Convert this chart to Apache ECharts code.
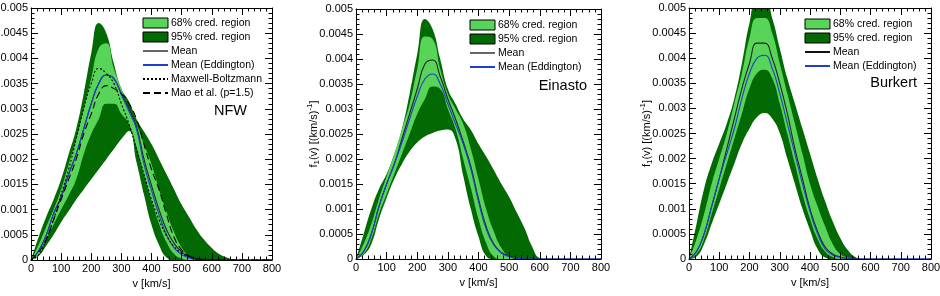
<!DOCTYPE html>
<html>
<head>
<meta charset="utf-8">
<script src="https://cdn.jsdelivr.net/npm/echarts@6/dist/echarts.min.js"></script>
<style>
  html, body { margin: 0; padding: 0; background: #fff; }
  #chart { width: 940px; height: 296px; }
</style>
</head>
<body>
<div id="chart"></div>
<script>
// speed grid [km/s]
const speed = [0, 25, 50, 75, 100, 125, 150, 175, 200, 225, 250, 275, 300, 325, 350, 375, 400,
  425, 450, 475, 500, 525, 550, 575, 600, 625, 650, 675, 700, 725, 750, 775, 800];

// NFW
const nfwUp95 = [0, 0.00045, 0.00085, 0.0012, 0.0016, 0.0021, 0.0026, 0.0033, 0.0041, 0.0047, 0.0045, 0.0039, 0.0034, 0.00315, 0.0028, 0.00255, 0.0023,
  0.002, 0.0017, 0.0014, 0.0011, 0.00085, 0.0006, 0.0004, 0.00024, 0.00012, 0.00005, 0.00001, 0, 0, 0, 0, 0];
const nfwUp68 = [0, 0.0003, 0.00065, 0.001, 0.0014, 0.0019, 0.0024, 0.003, 0.0036, 0.0042, 0.0043, 0.0038, 0.0034, 0.003, 0.0027, 0.0023, 0.0019,
  0.0014, 0.00095, 0.00055, 0.00025, 0.00008, 0.00002, 0, 0, 0, 0, 0, 0, 0, 0, 0, 0];
const nfwLo68 = [0, 0.0001, 0.0004, 0.0007, 0.001, 0.00128, 0.0016, 0.0021, 0.0025, 0.0028, 0.0031, 0.0031, 0.0029, 0.0027, 0.00225, 0.0017, 0.00118,
  0.00072, 0.00035, 0.00012, 0.00003, 0, 0, 0, 0, 0, 0, 0, 0, 0, 0, 0, 0];
const nfwLo95 = [0, 0.00008, 0.00028, 0.0005, 0.00075, 0.00097, 0.0012, 0.0014, 0.0016, 0.0018, 0.002, 0.0022, 0.0024, 0.00256, 0.00195, 0.0013, 0.0007,
  0.0003, 0.00005, 0, 0, 0, 0, 0, 0, 0, 0, 0, 0, 0, 0, 0, 0];
const nfwMean = [0, 0.00018, 0.00048, 0.00092, 0.00125, 0.0017, 0.0021, 0.0026, 0.0031, 0.0035, 0.00367, 0.0036, 0.0033, 0.003, 0.00265, 0.002, 0.00148,
  0.001, 0.0006, 0.00033, 0.00016, 0.00007, 0.00002, 0, 0, 0, 0, 0, 0, 0, 0, 0, 0];
const nfwEdd = [0, 0.00018, 0.00048, 0.00092, 0.00125, 0.0017, 0.0021, 0.0026, 0.0031, 0.0035, 0.00367, 0.0036, 0.00328, 0.00295, 0.0026, 0.0019, 0.00138,
  0.0009, 0.0005, 0.00024, 0.00011, 0.00004, 0.00001, 0, 0, 0, 0, 0, 0, 0, 0, 0, 0];
const nfwMB = [0, 0.0001, 0.0004, 0.0008, 0.0013, 0.0018, 0.0024, 0.003, 0.0035, 0.0038, 0.0037, 0.0035, 0.0031, 0.0027, 0.0022, 0.0017, 0.0012,
  0.0008, 0.00048, 0.00027, 0.00014, 0.00006, 0.00002, 0, 0, 0, 0, 0, 0, 0, 0, 0, 0];
const nfwMao = [0, 0.00015, 0.0004, 0.0008, 0.0012, 0.0016, 0.002, 0.0025, 0.0029, 0.0033, 0.00346, 0.0034, 0.0033, 0.0031, 0.0028, 0.0023, 0.0018,
  0.0014, 0.0009, 0.00045, 0.0002, 0.00008, 0.00003, 0.00001, 0, 0, 0, 0, 0, 0, 0, 0, 0];

// Einasto
const einUp95 = [0, 0.0005, 0.001, 0.0014, 0.0017, 0.0021, 0.0026, 0.0033, 0.0041, 0.0048, 0.0046, 0.004, 0.0034, 0.0031, 0.0028, 0.00258, 0.0023,
  0.00205, 0.00178, 0.0015, 0.00124, 0.00093, 0.00062, 0.00025, 0.00002, 0, 0, 0, 0, 0, 0, 0, 0];
const einUp68 = [0, 0.0003, 0.0007, 0.0012, 0.00165, 0.0021, 0.0026, 0.0031, 0.0038, 0.00445, 0.0044, 0.0038, 0.0033, 0.003, 0.0027, 0.0022, 0.0016,
  0.001, 0.00055, 0.00022, 0.00005, 0, 0, 0, 0, 0, 0, 0, 0, 0, 0, 0, 0];
const einLo68 = [0, 0.0001, 0.0004, 0.0009, 0.0013, 0.0017, 0.0021, 0.0025, 0.0029, 0.0032, 0.00345, 0.0034, 0.003, 0.0026, 0.002, 0.00142, 0.0008,
  0.00032, 0.00005, 0, 0, 0, 0, 0, 0, 0, 0, 0, 0, 0, 0, 0, 0];
const einLo95 = [0, 0.00008, 0.0003, 0.0008, 0.00122, 0.0016, 0.0019, 0.00215, 0.00233, 0.00245, 0.00252, 0.00257, 0.00259, 0.0024, 0.00167, 0.001, 0.00045,
  0.00006, 0, 0, 0, 0, 0, 0, 0, 0, 0, 0, 0, 0, 0, 0, 0];
const einMean = [0, 0.00015, 0.0005, 0.00105, 0.0015, 0.0019, 0.0024, 0.0029, 0.0034, 0.0039, 0.00398, 0.00365, 0.0032, 0.0028, 0.00235, 0.00185, 0.0012,
  0.00065, 0.0003, 0.00013, 0.00006, 0.00002, 0, 0, 0, 0, 0, 0, 0, 0, 0, 0, 0];
const einEdd = [0, 0.00015, 0.0005, 0.00105, 0.0015, 0.0019, 0.00233, 0.0028, 0.00325, 0.0036, 0.0037, 0.0035, 0.0031, 0.0027, 0.0023, 0.0018, 0.00115,
  0.0006, 0.00028, 0.00012, 0.00005, 0.00002, 0, 0, 0, 0, 0, 0, 0, 0, 0, 0, 0];

// Burkert
const burUp95 = [0, 0.0007, 0.0014, 0.0019, 0.0023, 0.0027, 0.0032, 0.0039, 0.0047, 0.0052, 0.0052, 0.0048, 0.0042, 0.0036, 0.0031, 0.0026, 0.0021,
  0.0016, 0.00115, 0.00075, 0.00042, 0.00018, 0.00004, 0, 0, 0, 0, 0, 0, 0, 0, 0, 0];
const burUp68 = [0, 0.0004, 0.0009, 0.0015, 0.002, 0.0025, 0.0031, 0.0037, 0.0044, 0.0048, 0.0048, 0.0045, 0.0039, 0.0033, 0.0027, 0.0021, 0.0015,
  0.00105, 0.00065, 0.0003, 0.0001, 0.00003, 0, 0, 0, 0, 0, 0, 0, 0, 0, 0, 0];
const burLo68 = [0, 0.0001, 0.0004, 0.0009, 0.0014, 0.0019, 0.0024, 0.0029, 0.0034, 0.0037, 0.00377, 0.0036, 0.0031, 0.0025, 0.0019, 0.0013, 0.0008,
  0.0004, 0.00015, 0.00004, 0, 0, 0, 0, 0, 0, 0, 0, 0, 0, 0, 0, 0];
const burLo95 = [0, 0.00005, 0.0003, 0.0007, 0.0011, 0.0015, 0.0019, 0.0023, 0.0026, 0.00283, 0.00291, 0.0028, 0.00251, 0.002, 0.0015, 0.001, 0.00058,
  0.0002, 0.00003, 0, 0, 0, 0, 0, 0, 0, 0, 0, 0, 0, 0, 0, 0];
const burMean = [0, 0.00015, 0.0005, 0.00105, 0.0016, 0.0022, 0.0028, 0.0034, 0.0039, 0.0043, 0.0043, 0.004, 0.0035, 0.0029, 0.0022, 0.0016, 0.001,
  0.00055, 0.00024, 0.0001, 0.00004, 0.00001, 0, 0, 0, 0, 0, 0, 0, 0, 0, 0, 0];
const burEdd = [0, 0.00015, 0.0005, 0.00105, 0.0016, 0.0021, 0.0026, 0.0032, 0.0037, 0.004, 0.00406, 0.0038, 0.0033, 0.0027, 0.0021, 0.0015, 0.00095,
  0.0005, 0.0002, 0.00008, 0.00003, 0.00001, 0, 0, 0, 0, 0, 0, 0, 0, 0, 0, 0];

const xTicks = { min: 0, max: 800, interval: 100 };
const yTicks = { min: 0, max: 0.005, interval: 0.0005 };

const LIGHT = '#58d458';
const DARK = '#036a03';
const MEAN_COL = '#222222';
const EDD_COL = '#1f3fd0';
const FONT = '"Liberation Sans", Arial, sans-serif';

const boxes = [
  { left: 31, top: 8, width: 241, height: 252 },
  { left: 356, top: 9, width: 245, height: 250 },
  { left: 689, top: 8, width: 242, height: 251 }
];

const pairs = (ys) => speed.map((v, i) => [v, ys[i]]);

const yFmt = (v) => (v === 0 ? '0' : String(+v.toFixed(4)));

function axesFor(i, showYName) {
  const tick = { show: true, inside: true, length: 7, lineStyle: { color: '#000' } };
  const minor = { show: true, splitNumber: 5, length: 3.5, lineStyle: { color: '#000' } };
  const line = { show: true, onZero: false, lineStyle: { color: '#000', width: 1 } };
  const x = [
    {
      type: 'value', gridIndex: i, position: 'bottom', z: 10, ...xTicks,
      axisLine: line, axisTick: tick, minorTick: minor, splitLine: { show: false },
      axisLabel: { fontSize: 11, color: '#000', margin: 3, fontFamily: FONT },
      name: 'v [km/s]', nameLocation: 'middle', nameGap: 16,
      nameTextStyle: { fontSize: 11, color: '#000', fontFamily: FONT }
    },
    {
      type: 'value', gridIndex: i, position: 'top', z: 10, ...xTicks,
      axisLine: line, axisTick: tick, minorTick: minor, splitLine: { show: false },
      axisLabel: { show: false }
    }
  ];
  const y = [
    {
      type: 'value', gridIndex: i, position: 'left', z: 10, ...yTicks,
      axisLine: line, axisTick: tick, minorTick: minor, splitLine: { show: false },
      axisLabel: { fontSize: 11, color: '#000', margin: 3, fontFamily: FONT, formatter: yFmt }
    },
    {
      type: 'value', gridIndex: i, position: 'right', z: 10, ...yTicks,
      axisLine: line, axisTick: tick, minorTick: minor, splitLine: { show: false },
      axisLabel: { show: false }
    }
  ];
  if (showYName) {
    y[0].name = 'f{sub|1}(v) [(km/s){sup|-1}]';
    y[0].nameLocation = 'middle';
    y[0].nameGap = 35;
    y[0].nameMoveOverlap = false;
    y[0].nameTextStyle = {
      fontSize: 11, color: '#000', fontFamily: FONT,
      rich: {
        sub: { fontSize: 8, fontFamily: FONT, color: '#000', padding: [7, 0, 0, 0] },
        sup: { fontSize: 8, fontFamily: FONT, color: '#000', padding: [0, 0, 7, 0] }
      }
    };
  }
  return { x, y };
}

// bands are painted down to zero, outer to inner, so the nesting gives the green bands
function bandSeries(i, up95, up68, lo68, lo95) {
  const fills = [
    ['95% cred. region', up95, DARK],
    ['68% cred. region', up68, LIGHT],
    ['lo68', lo68, DARK],
    ['lo95', lo95, '#ffffff']
  ];
  return fills.map(([name, ys, col]) => ({
    name, type: 'line', xAxisIndex: 2 * i, yAxisIndex: 2 * i,
    data: pairs(ys), smooth: 0.5, symbol: 'none', silent: true,
    lineStyle: { width: 0, color: col }, itemStyle: { color: col },
    areaStyle: { color: col, opacity: 1 }
  }));
}

function curve(i, name, ys, col, type) {
  return {
    name, type: 'line', xAxisIndex: 2 * i, yAxisIndex: 2 * i,
    data: pairs(ys), smooth: 0.5, symbol: 'none', silent: true,
    lineStyle: { width: 1.1, color: col, type: type || 'solid' }, itemStyle: { color: col }
  };
}

function legendFor(left, top, names, meanCol) {
  const band = (name, col) => ({ name, icon: 'rect', itemStyle: { color: col, borderColor: '#000', borderWidth: 1 } });
  const lineItem = (name) => {
    const item = { name, itemStyle: { opacity: 0 } };
    if (name === 'Mean') item.lineStyle = { color: meanCol };
    return item;
  };
  const data = [band('68% cred. region', LIGHT), band('95% cred. region', DARK)].concat(names.map(lineItem));
  return {
    orient: 'vertical', left, top, itemWidth: 25, itemHeight: 10, itemGap: 2,
    selectedMode: false, data,
    textStyle: { fontSize: 10.5, color: '#000', fontFamily: FONT, lineHeight: 12, padding: [0, 0, 0, -2] }
  };
}

const axes = [axesFor(0, false), axesFor(1, true), axesFor(2, true)];

const series = [].concat(
  bandSeries(0, nfwUp95, nfwUp68, nfwLo68, nfwLo95),
  [
    curve(0, 'Mean', nfwMean, MEAN_COL),
    curve(0, 'Mean (Eddington)', nfwEdd, EDD_COL),
    curve(0, 'Maxwell-Boltzmann', nfwMB, '#000', [2, 2]),
    curve(0, 'Mao et al. (p=1.5)', nfwMao, '#000', [7, 4])
  ],
  bandSeries(1, einUp95, einUp68, einLo68, einLo95),
  [curve(1, 'Mean', einMean, MEAN_COL), curve(1, 'Mean (Eddington)', einEdd, EDD_COL)],
  bandSeries(2, burUp95, burUp68, burLo68, burLo95),
  [curve(2, 'Mean', burMean, MEAN_COL), curve(2, 'Mean (Eddington)', burEdd, EDD_COL)]
);

const halo = (text, right, top) => ({
  type: 'text', right, top, z: 20,
  style: { text, fontSize: 14.5, fill: '#000', fontFamily: FONT }
});

const option = {
  animation: false,
  backgroundColor: '#fff',
  textStyle: { fontFamily: FONT },
  grid: boxes.map(b => ({ ...b, containLabel: false, outerBoundsMode: 'none' })),
  xAxis: axes.flatMap(a => a.x),
  yAxis: axes.flatMap(a => a.y),
  legend: [
    legendFor(137, 12, ['Mean', 'Mean (Eddington)', 'Maxwell-Boltzmann', 'Mao et al. (p=1.5)'], '#666'),
    legendFor(464, 14, ['Mean', 'Mean (Eddington)'], '#666'),
    legendFor(799, 13, ['Mean', 'Mean (Eddington)'], '#111')
  ],
  graphic: [halo('NFW', 940 - 247, 103), halo('Einasto', 940 - 587, 78), halo('Burkert', 940 - 917, 75)],
  series
};

const chart = echarts.init(document.getElementById('chart'), null, { renderer: 'canvas' });
chart.setOption(option);
</script>
</body>
</html>
